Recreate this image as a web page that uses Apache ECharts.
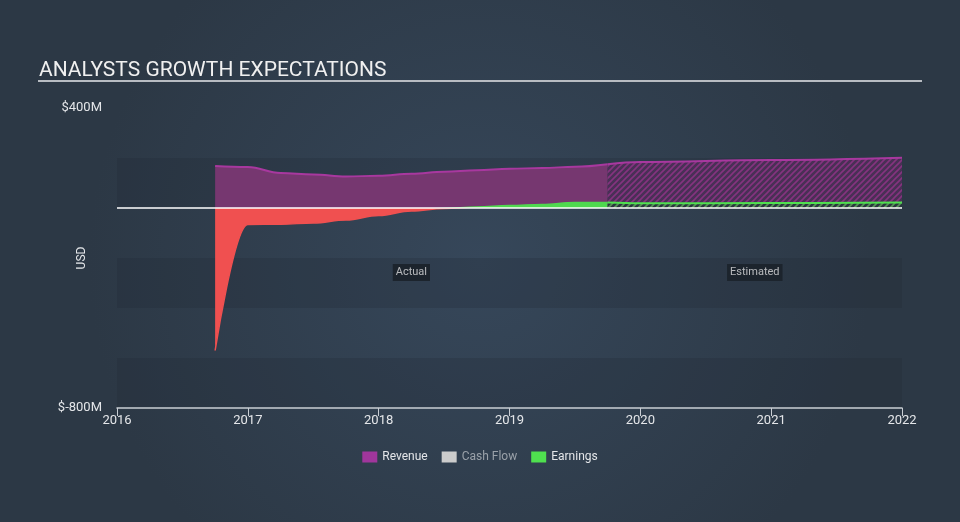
<!DOCTYPE html>
<html>
<head>
<meta charset="utf-8">
<script src="https://cdn.jsdelivr.net/npm/echarts@6/dist/echarts.min.js"></script>
<style>
html,body{margin:0;padding:0;background:#333f4d;}
#chart{width:960px;height:522px;}
</style>
</head>
<body>
<div id="chart"></div>
<script>
// ---- data (values in $M, x in fractional years) ----
const actualDates = [2016.75, 2017.0, 2017.25, 2017.5, 2017.75, 2018.0, 2018.25, 2018.5, 2018.75, 2019.0, 2019.25, 2019.5, 2019.75];
const revenueActual = [168, 164, 140, 134, 126, 129, 137, 145, 151, 157, 160, 165, 175];
const earningsActual = [-570, -66, -65, -60, -48, -30, -12, -2, 4, 10, 14, 22, 22];
const estimateDates = [2019.75, 2020.0, 2021.0, 2022.0];
const revenueEstimate = [175, 184, 192, 201];
const earningsEstimate = [22, 19, 20, 22];
const cashFlowActual = [];
const xTicks = [2016, 2017, 2018, 2019, 2020, 2021, 2022];
const yMin = -800, yMax = 400, yStep = 200;

const pair = (xs, ys) => xs.map((x, i) => [x, ys[i]]);

function hatch(bg, stroke) {
  const c = document.createElement('canvas');
  c.width = 6; c.height = 6;
  const g = c.getContext('2d');
  g.fillStyle = bg; g.fillRect(0, 0, 6, 6);
  g.strokeStyle = stroke; g.lineWidth = 1.6;
  g.beginPath();
  g.moveTo(-1, 7); g.lineTo(7, -1);
  g.moveTo(-4, 4); g.lineTo(4, -4);
  g.moveTo(2, 10); g.lineTo(10, 2);
  g.stroke();
  return { image: c, repeat: 'repeat' };
}

const chart = echarts.init(document.getElementById('chart'));
const txt = '#e4e6e9';
const titleLine = {
  type: 'rect', shape: { x: 38, y: 80, width: 884, height: 2 },
  style: { fill: '#b8bcc2' }, silent: true
};
const option = {
  backgroundColor: {
    type: 'radial', x: 0.5, y: 0.5, r: 0.75,
    colorStops: [{ offset: 0, color: '#36475a' }, { offset: 1, color: '#2c3845' }]
  },
  animation: false,
  textStyle: { fontFamily: 'Roboto' },
  title: {
    text: 'ANALYSTS GROWTH EXPECTATIONS',
    left: 34, top: 55,
    textStyle: { color: '#f0f0f0', fontSize: 21, fontWeight: 'normal', fontFamily: 'Roboto' }
  },
  graphic: [titleLine],
  legend: {
    bottom: 54, left: 'center', itemWidth: 15, itemHeight: 11, itemGap: 14,
    icon: 'rect',
    textStyle: { color: txt, fontSize: 12, fontFamily: 'Roboto' },
    data: [
      { name: 'Revenue', itemStyle: { color: '#a0369c' } },
      { name: 'Cash Flow', itemStyle: { color: '#cccccc' }, textStyle: { color: '#9aa1a9' } },
      { name: 'Earnings', itemStyle: { color: '#4fe04f' } }
    ]
  },
  grid: { left: 117, right: 58, top: 108, bottom: 114 },
  xAxis: {
    type: 'value', min: xTicks[0], max: xTicks[xTicks.length - 1], interval: 1,
    axisLine: { onZero: false, lineStyle: { color: '#c9ced4', width: 1.5 } },
    axisTick: { show: true, length: 8, lineStyle: { color: '#c9ced4' } },
    axisLabel: { color: txt, fontSize: 13, margin: 6, formatter: v => String(v) },
    splitLine: { show: false }
  },
  yAxis: {
    type: 'value', min: yMin, max: yMax, interval: yStep,
    name: 'USD', nameLocation: 'middle', nameGap: 29, nameMoveOverlap: false,
    nameTextStyle: { color: txt, fontSize: 12 },
    axisLine: { show: false }, axisTick: { show: false },
    axisLabel: {
      color: txt, fontSize: 13, margin: 15,
      formatter: v => (v === yMax || v === yMin) ? ('$' + v + 'M') : ''
    },
    splitLine: { show: false },
    splitArea: { show: true, areaStyle: { color: ['rgba(30,40,50,0.25)', 'rgba(0,0,0,0)'] } }
  },
  visualMap: {
    show: false, type: 'piecewise', seriesIndex: 2, dimension: 1,
    pieces: [{ gte: -2000, lt: 0, color: '#f05050' }, { gte: 0, lte: 2000, color: '#4fd84f' }]
  },
  series: [
    {
      name: 'Revenue', type: 'line', data: pair(actualDates, revenueActual),
      smooth: 0.4, smoothMonotone: 'x', symbol: 'none',
      lineStyle: { color: '#a8389f', width: 2 },
      areaStyle: { color: '#763770', opacity: 1 },
      itemStyle: { color: '#a0369c' },
      markLine: {
        silent: true, symbol: 'none', label: { show: false },
        lineStyle: { color: '#ffffff', width: 1.5, type: 'solid' },
        data: [{ yAxis: 0 }]
      },
      z: 2
    },
    {
      name: 'Revenue', type: 'line', data: pair(estimateDates, revenueEstimate),
      smooth: 0.4, smoothMonotone: 'x', symbol: 'none',
      lineStyle: { color: '#a8389f', width: 2 },
      areaStyle: { color: hatch('rgba(76,48,88,0.9)', 'rgba(140,52,132,0.9)'), opacity: 1 },
      itemStyle: { color: '#a0369c' },
      z: 2
    },
    {
      name: 'Earnings', type: 'line', data: pair(actualDates, earningsActual),
      smooth: 0.4, smoothMonotone: 'x', symbol: 'none',
      lineStyle: { width: 1.5 },
      areaStyle: { opacity: 1 },
      itemStyle: { color: '#4fe04f' },
      z: 3
    },
    {
      name: 'Earnings', type: 'line', data: pair(estimateDates, earningsEstimate),
      smooth: 0.4, smoothMonotone: 'x', symbol: 'none',
      lineStyle: { color: '#4fe04f', width: 2 },
      areaStyle: { color: hatch('rgba(40,55,60,0.9)', 'rgba(90,160,90,0.9)'), opacity: 1 },
      itemStyle: { color: '#4fe04f' },
      z: 3
    },
    {
      name: 'Cash Flow', type: 'line', data: cashFlowActual, symbol: 'none',
      itemStyle: { color: '#cccccc' }
    }
  ]
};
chart.setOption(option);

// Period labels centred over the actual and estimated spans
const labelY = chart.convertToPixel({ yAxisIndex: 0 }, -258);
const xa0 = chart.convertToPixel({ xAxisIndex: 0 }, actualDates[0]);
const xa1 = chart.convertToPixel({ xAxisIndex: 0 }, actualDates[actualDates.length - 1]);
const xe1 = chart.convertToPixel({ xAxisIndex: 0 }, estimateDates[estimateDates.length - 1]);
function periodLabel(text, cx) {
  return {
    type: 'text', x: cx, y: labelY, silent: true,
    style: {
      text: text, fill: '#e8e8e8', font: '11px Roboto',
      align: 'center', verticalAlign: 'middle',
      backgroundColor: '#1b232b', padding: [3, 3, 3, 3]
    }
  };
}
chart.setOption({
  graphic: [
    titleLine,
    periodLabel('Actual', (xa0 + xa1) / 2),
    periodLabel('Estimated', (xa1 + xe1) / 2)
  ]
});
</script>
</body>
</html>
